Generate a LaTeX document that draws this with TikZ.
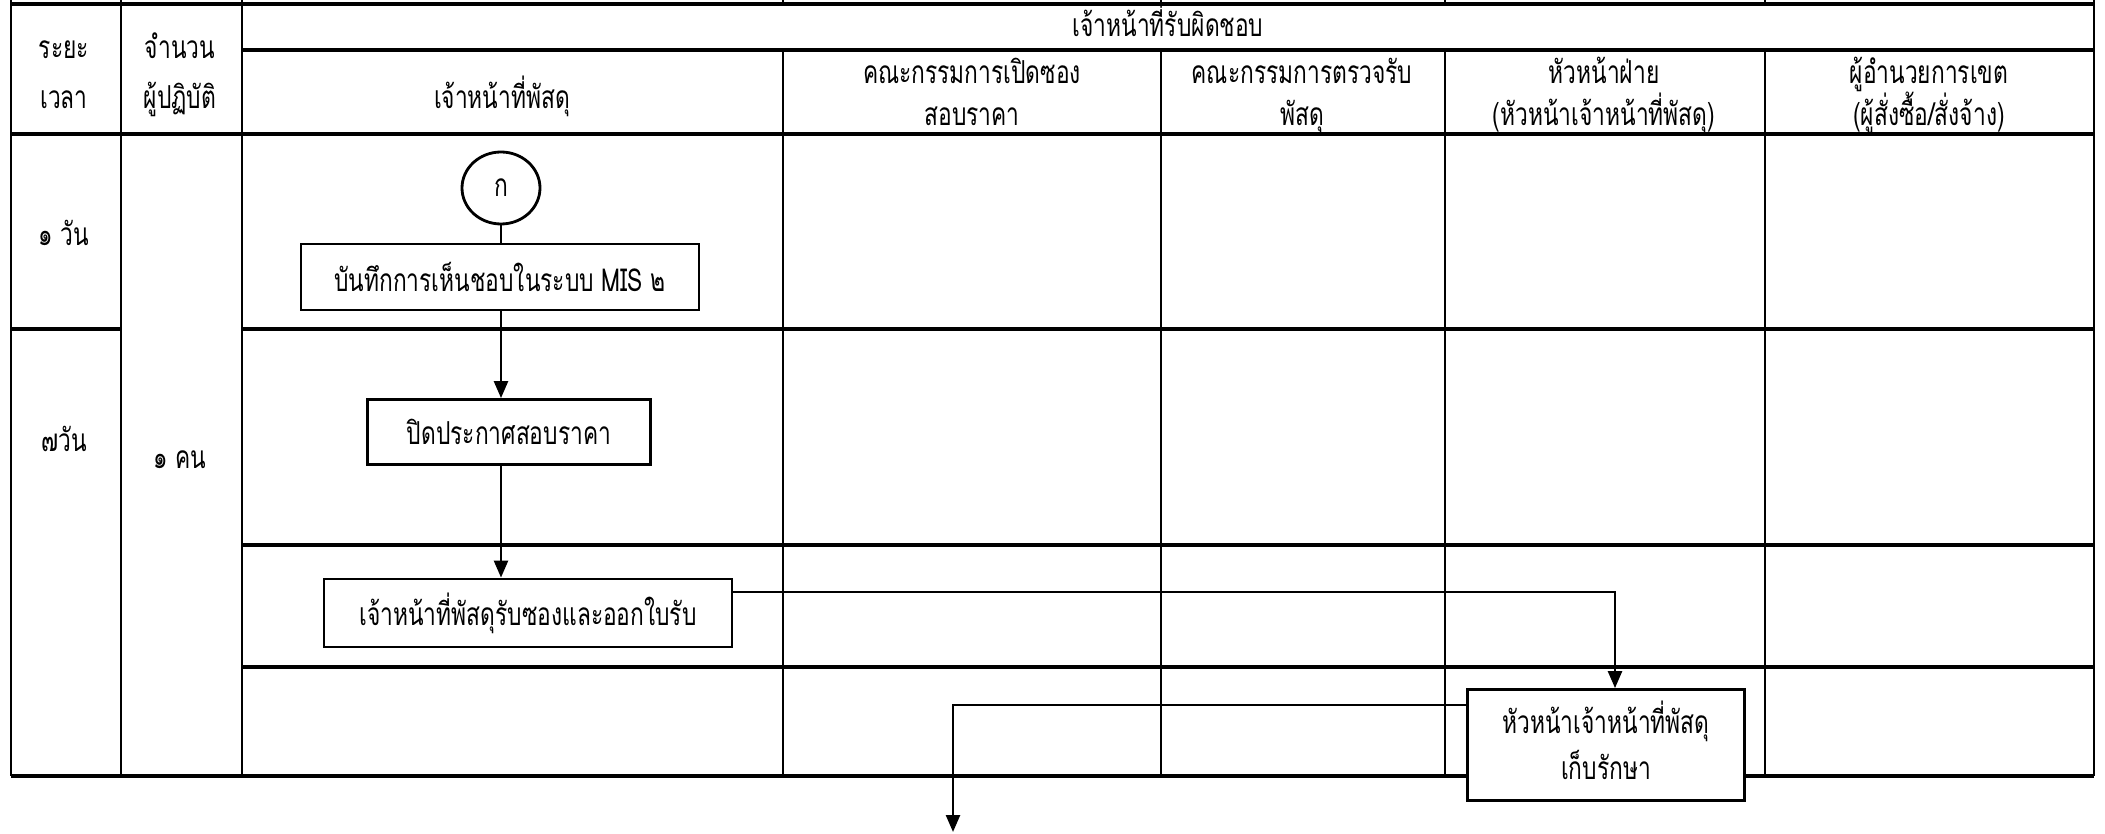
\documentclass[tikz,border=0pt]{standalone}
\usepackage{fontspec}
\newfontfamily\thaifont[Script=Thai, FakeStretch=0.72]{Loma}
\usetikzlibrary{arrows.meta, calc, positioning, shapes.geometric}

\begin{document}
\begin{tikzpicture}[
    x=0.1mm, y=-0.1mm,
    >={Triangle[length=1.7mm, width=1.4mm]},
    every node/.style={font=\thaifont\fontsize{9}{11}\selectfont},
    vline/.style ={line width=0.8pt},
    hline/.style ={line width=1.1pt},
    head/.style  ={anchor=base, inner sep=0pt},
    box/.style   ={draw, fill=white, line width=0.8pt, align=center, inner sep=0pt},
    flow/.style  ={->, line width=0.7pt},
    tie/.style   ={line width=0.7pt},
]
\useasboundingbox (0,0) rectangle (2105,834);
\draw[vline] (11,0) -- (11,776) (121,0) -- (121,776) (242,0) -- (242,776)
             (2094,0) -- (2094,776);
\foreach \x in {783,1161,1445,1765}
  \draw[vline] (\x,0) -- (\x,4) (\x,50) -- (\x,776);
\draw[hline] (11,4) -- (2094,4) (242,50) -- (2094,50) (11,134) -- (2094,134)
             (11,329) -- (121,329) (242,329) -- (2094,329)
             (242,545) -- (2094,545) (242,667) -- (2094,667) (11,776) -- (2094,776);
\node[head] (time1)  at (64,59)    {ระยะ};
\node[head] (time2)  at (64,109)   {เวลา};
\node[head] (staff1) at (180,59)   {จำนวน};
\node[head] (staff2) at (180,109)  {ผู้ปฏิบัติ};
\node[head] (resp)   at (1168,37)  {เจ้าหน้าที่รับผิดชอบ};
\node[head] (colA)   at (502,109)  {เจ้าหน้าที่พัสดุ};
\node[head] (colB1)  at (972,84)   {คณะกรรมการเปิดซอง};
\node[head] (colB2)  at (972,126)  {สอบราคา};
\node[head] (colC1)  at (1302,84)  {คณะกรรมการตรวจรับ};
\node[head] (colC2)  at (1302,126) {พัสดุ};
\node[head] (colD1)  at (1604,84)  {หัวหน้าฝ่าย};
\node[head] (colD2)  at (1604,126) {(หัวหน้าเจ้าหน้าที่พัสดุ)};
\node[head] (colE1)  at (1929,84)  {ผู้อำนวยการเขต};
\node[head] (colE2)  at (1929,126) {(ผู้สั่งซื้อ/สั่งจ้าง)};
\node[head] (day1)   at (64,246)   {๑ วัน};
\node[head] (day7)   at (64,452)   {๗วัน};
\node[head] (one)    at (180,468)  {๑ คน};
\node[draw, ellipse, line width=0.8pt, minimum width=7.8mm, minimum height=7.2mm,
      inner sep=0pt] (ko) at (501,188) {ก};
\node[box, minimum width=39.8mm, minimum height=6.6mm] (rec)   at (500,277)
     {บันทึกการเห็นชอบในระบบ MIS ๒};
\node[box, minimum width=28.3mm, minimum height=6.5mm] (post)  at (509,432)
     {ปิดประกาศสอบราคา};
\node[box, minimum width=40.8mm, minimum height=6.8mm] (recv)  at (528,613)
     {เจ้าหน้าที่พัสดุรับซองและออกใบรับ};
\node[box, minimum width=27.7mm, minimum height=11.1mm] (keep) at (1606,745) {};
\node[head] (keep1)  at (1606,733) {หัวหน้าเจ้าหน้าที่พัสดุ};
\node[head] (keep2)  at (1606,779) {เก็บรักษา};
\coordinate (next) at (953,832);
\draw[tie]  (ko) -- (ko |- rec.north);
\draw[flow] (rec.south -| ko) -- (ko |- post.north);
\draw[flow] (ko |- post.south) -- (ko |- recv.north);
\draw[flow] ([yshift=2.1mm]recv.east) -| ([xshift=0.9mm]keep.north);
\draw[flow] ([yshift=-1.7mm]keep.north west) -| (next);
\end{tikzpicture}
\end{document}
